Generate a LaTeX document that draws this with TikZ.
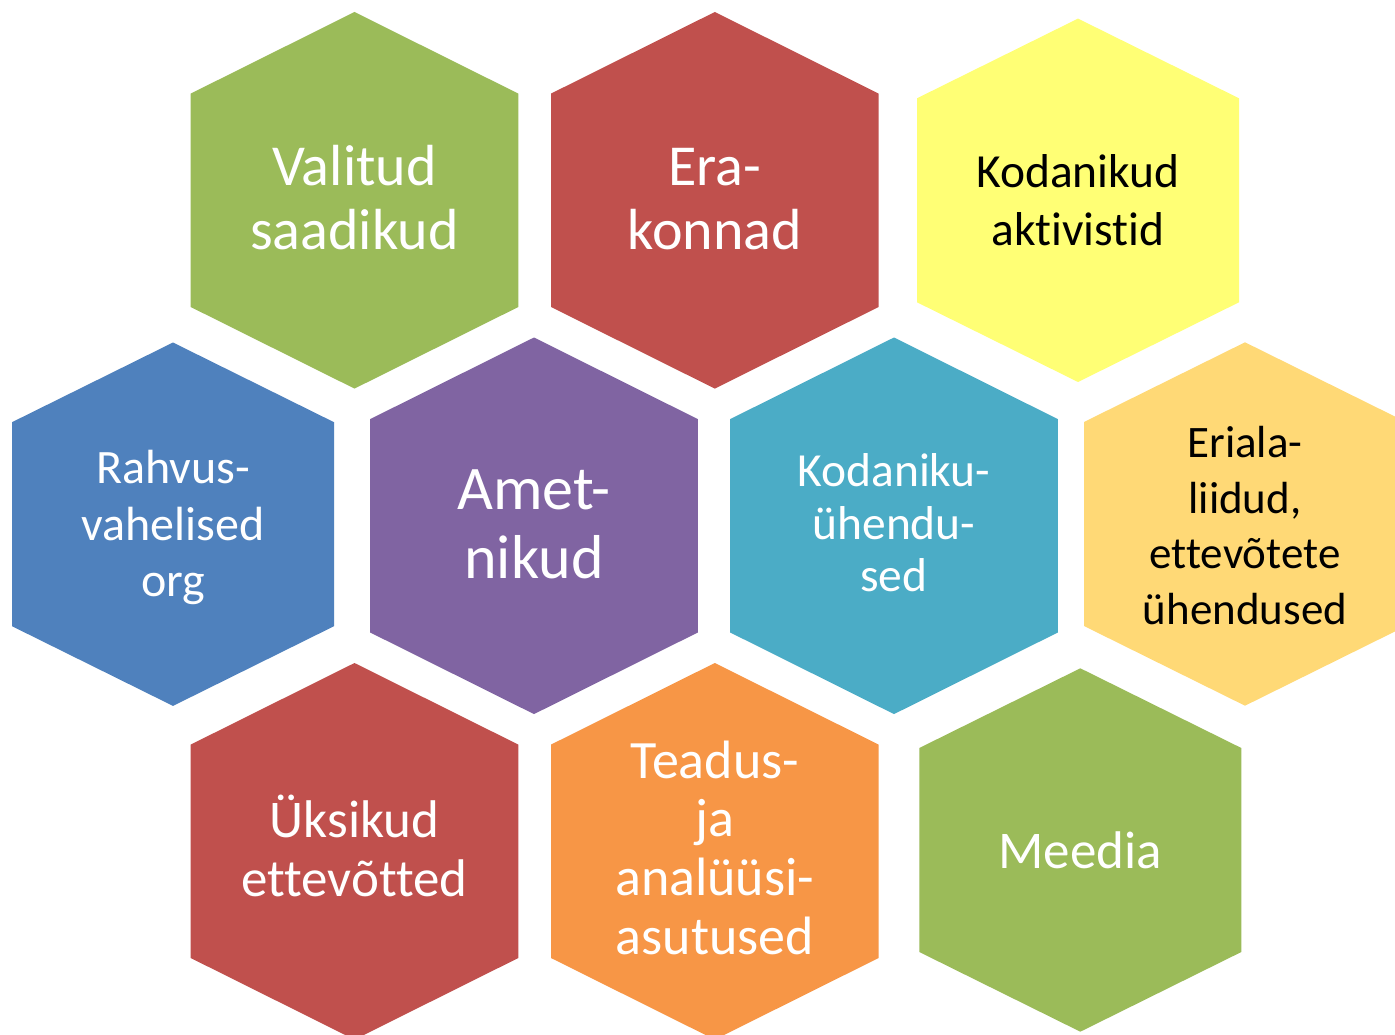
\documentclass[tikz,border=0pt]{standalone}
\usepackage{fontspec}
\setmainfont{Carlito}[Ligatures=NoCommon]
\definecolor{hgreen}{HTML}{9BBB59}
\definecolor{hred}{HTML}{C0504D}
\definecolor{hyellow}{HTML}{FFFF75}
\definecolor{hblue}{HTML}{4F81BD}
\definecolor{hpurple}{HTML}{8064A2}
\definecolor{hteal}{HTML}{4BACC6}
\definecolor{hlorange}{HTML}{FFD976}
\definecolor{horange}{HTML}{F79646}
\tikzset{
  hexlabel/.style={anchor=base, align=center, inner sep=0pt},
  whitetext/.style={text=white},
  blacktext/.style={text=black},
}
% large hexagon: centre x, centre y, colour
\newcommand{\hexLarge}[3]{\fill[#3, shift={(#1,#2)}] (-163.8,-106.7) -- (0,-188.3) -- (163.8,-106.7) -- (163.8,106.7) -- (0,188.3) -- (-163.8,106.7) -- cycle;}
% small hexagon
\newcommand{\hexSmall}[3]{\fill[#3, shift={(#1,#2)}] (-161,-102) -- (0,-181.7) -- (161,-102) -- (161,102) -- (0,181.7) -- (-161,102) -- cycle;}
\begin{document}
\begin{tikzpicture}[x=1pt,y=-1pt]
\clip (0,0) rectangle (1395,1035);
\fill[white] (0,0) rectangle (1395,1035);

\hexLarge{354.5}{200.3}{hgreen}
\hexLarge{714.8}{200.3}{hred}
\hexSmall{1078}{200.3}{hyellow}
\hexSmall{173}{524.2}{hblue}
\hexLarge{534}{525.8}{hpurple}
\hexLarge{894}{525.8}{hteal}
\hexSmall{1245}{524}{hlorange}
\hexLarge{354.5}{851.3}{hred}
\hexLarge{714.8}{851.3}{horange}
\hexSmall{1080.3}{850}{hgreen}

% anchor=base of a multi-line node is the baseline of its last line
\node[hexlabel, whitetext, font=\fontsize{58}{64}\selectfont] (valitud) at (354.5,249.3) {Valitud\\saadikud};
\node[hexlabel, whitetext, font=\fontsize{58}{64}\selectfont] (erakonnad) at (714.8,249.3) {Era-\\konnad};
\node[hexlabel, blacktext, font=\fontsize{47.5}{58}\selectfont] (aktivistid) at (1078,245.7) {Kodanikud\\aktivistid};
\node[hexlabel, whitetext, font=\fontsize{48}{56.7}\selectfont] (rahvus) at (173,596.7) {Rahvus-\\vahelised\\org};
\node[hexlabel, whitetext, font=\fontsize{62}{69.3}\selectfont] (ametnikud) at (534,578.3) {Amet-\\nikud};
\node[hexlabel, whitetext, font=\fontsize{47.5}{52.5}\selectfont] (kodaniku) at (894,591.7) {Kodaniku-\\ühendu-\\sed};
\node[hexlabel, blacktext, font=\fontsize{45}{55.5}\selectfont] (eriala) at (1245,624.3) {Eriala-\\liidud,\\ettevõtete\\ühendused};
\node[hexlabel, whitetext, font=\fontsize{53}{58.3}\selectfont] (uksikud) at (354.5,896) {Üksikud\\ettevõtted};
\node[hexlabel, whitetext, font=\fontsize{54}{58.6}\selectfont] (teadus) at (714.8,954) {Teadus-\\ja\\analüüsi-\\asutused};
\node[hexlabel, whitetext, font=\fontsize{53}{60}\selectfont] (meedia) at (1080.3,868.3) {Meedia};
\end{tikzpicture}
\end{document}
